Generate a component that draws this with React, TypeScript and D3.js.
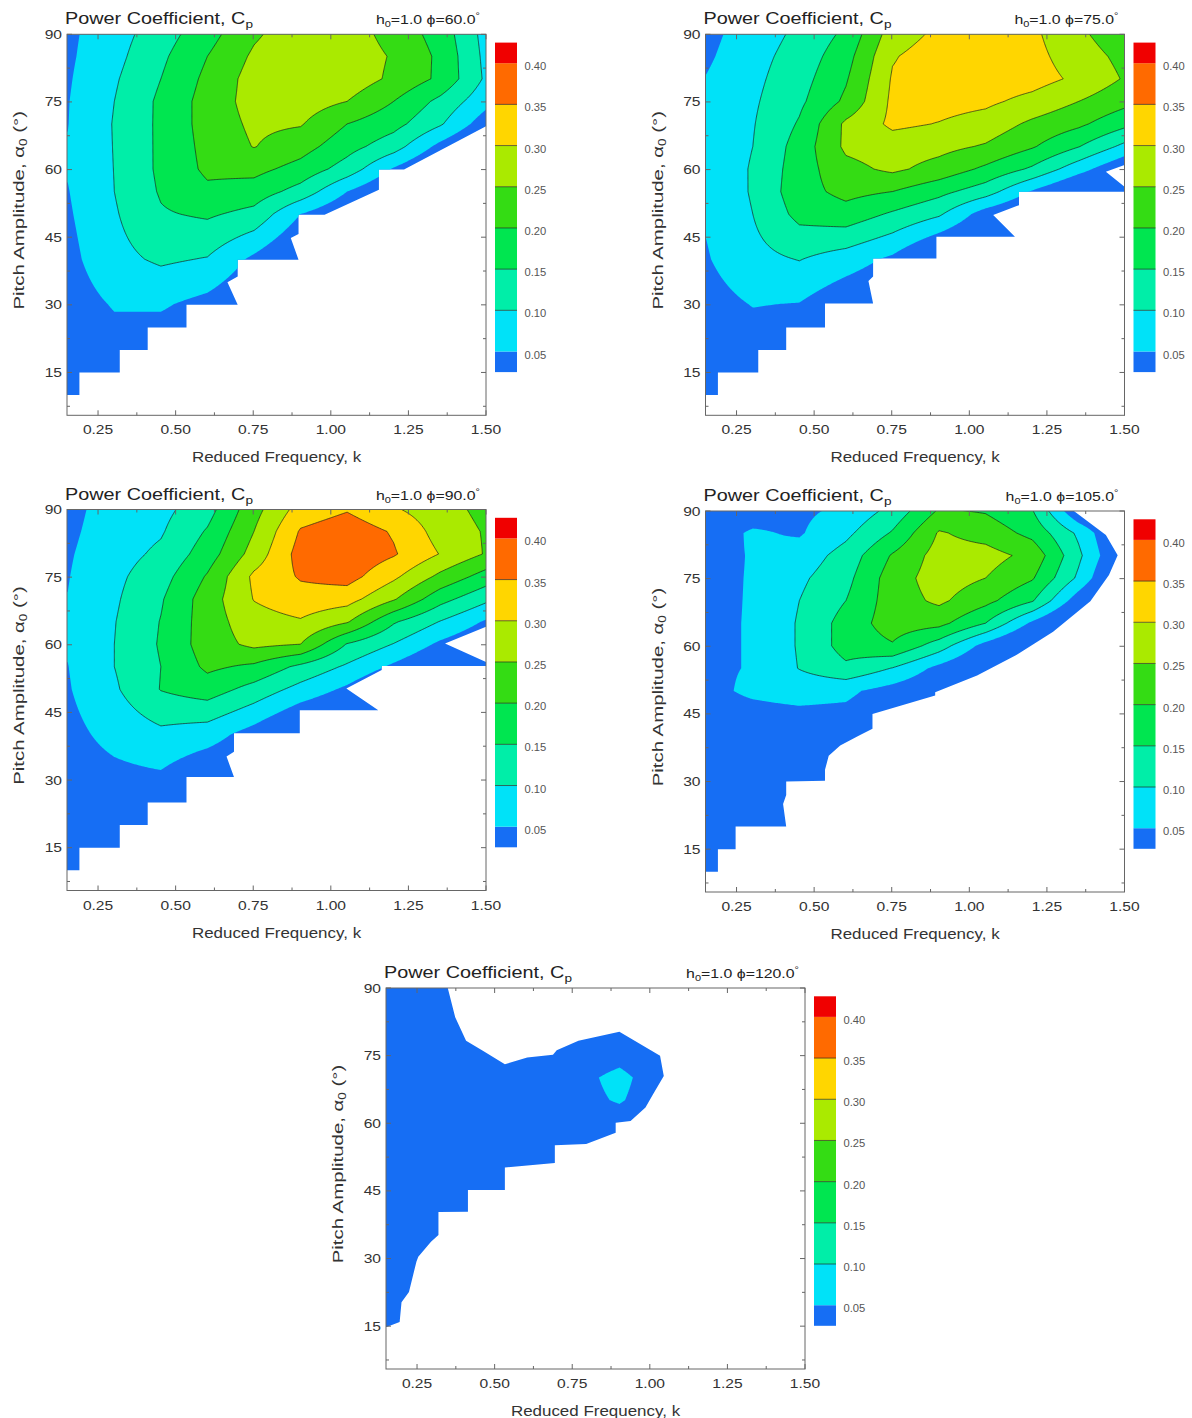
import React, { useMemo } from "react";
import * as d3 from "d3";

// ---------------- data ----------------
const kGrid = [0.15, 0.3, 0.45, 0.6, 0.75, 0.9, 1.05, 1.2, 1.35, 1.5];
const alphaGrid = [10, 20, 30, 40, 50, 55, 60, 65, 70, 75, 80, 85, 90];

const cpLevels = [0.05, 0.1, 0.15, 0.2, 0.25, 0.3, 0.35, 0.4];
const cpLevelLabels = ["0.05", "0.10", "0.15", "0.20", "0.25", "0.30", "0.35", "0.40"];
const xTicks = [0.25, 0.5, 0.75, 1.0, 1.25, 1.5];
const xTickLabels = ["0.25", "0.50", "0.75", "1.00", "1.25", "1.50"];
const xMinorTicks = [0.375, 0.625, 0.875, 1.125, 1.375];
const yTicks = [15, 30, 45, 60, 75, 90];
const yTickLabels = ["15", "30", "45", "60", "75", "90"];
const yMinorTicks = [7.5, 22.5, 37.5, 52.5, 67.5, 82.5];
const phaseAngles = ["60.0", "75.0", "90.0", "105.0", "120.0"];
const heaveAmplitude = "1.0";

// Cp on (alpha row, k column); rows follow alphaGrid (10 -> 90)
const cpPhi60 = [
  [0.01, 0.01, 0.005, 0.0, -0.01, -0.02, -0.03, -0.04, -0.05, -0.05],
  [0.02, 0.03, 0.02, 0.01, 0.0, -0.02, -0.03, -0.04, -0.05, -0.05],
  [0.025, 0.054, 0.056, 0.034, 0.0, -0.02, -0.03, -0.04, -0.05, -0.05],
  [0.035, 0.085, 0.108, 0.097, 0.039, -0.02, -0.04, -0.05, -0.05, -0.05],
  [0.044, 0.095, 0.145, 0.157, 0.135, 0.05, 0.0, -0.02, -0.05, -0.05],
  [0.048, 0.1, 0.155, 0.19, 0.177, 0.131, 0.05, -0.01, -0.03, -0.05],
  [0.053, 0.101, 0.16, 0.21, 0.215, 0.182, 0.128, 0.045, -0.02, -0.04],
  [0.052, 0.102, 0.16, 0.215, 0.252, 0.221, 0.169, 0.122, 0.035, -0.03],
  [0.049, 0.103, 0.16, 0.22, 0.26, 0.254, 0.2, 0.167, 0.106, 0.02],
  [0.048, 0.1, 0.16, 0.22, 0.27, 0.275, 0.25, 0.2, 0.137, 0.065],
  [0.045, 0.094, 0.15, 0.212, 0.27, 0.29, 0.28, 0.24, 0.19, 0.09],
  [0.042, 0.085, 0.14, 0.2, 0.258, 0.29, 0.28, 0.245, 0.19, 0.085],
  [0.04, 0.079, 0.126, 0.181, 0.242, 0.28, 0.275, 0.231, 0.18, 0.08],
];
const cpPhi75 = [
  [0.01, 0.01, 0.005, 0.0, -0.01, -0.02, -0.03, -0.04, -0.05, -0.05],
  [0.02, 0.025, 0.02, 0.01, 0.0, -0.02, -0.03, -0.04, -0.05, -0.05],
  [0.03, 0.052, 0.048, 0.01, -0.01, -0.02, -0.03, -0.04, -0.05, -0.05],
  [0.046, 0.085, 0.102, 0.075, 0.04, -0.03, -0.05, -0.05, -0.05, -0.05],
  [0.055, 0.1, 0.165, 0.18, 0.143, 0.107, 0.025, -0.02, -0.04, -0.05],
  [0.057, 0.105, 0.18, 0.215, 0.2, 0.165, 0.123, 0.045, -0.02, -0.03],
  [0.058, 0.105, 0.175, 0.235, 0.26, 0.232, 0.19, 0.142, 0.07, 0.0],
  [0.06, 0.1, 0.17, 0.26, 0.275, 0.265, 0.245, 0.205, 0.152, 0.086],
  [0.06, 0.097, 0.155, 0.26, 0.31, 0.298, 0.28, 0.24, 0.21, 0.163],
  [0.058, 0.093, 0.14, 0.21, 0.31, 0.318, 0.31, 0.285, 0.25, 0.215],
  [0.052, 0.088, 0.13, 0.195, 0.305, 0.325, 0.33, 0.32, 0.29, 0.245],
  [0.042, 0.083, 0.12, 0.18, 0.296, 0.325, 0.33, 0.315, 0.275, 0.235],
  [0.035, 0.075, 0.11, 0.16, 0.275, 0.31, 0.325, 0.31, 0.26, 0.215],
];
const cpPhi90 = [
  [0.01, 0.01, 0.005, 0.0, -0.01, -0.02, -0.03, -0.04, -0.05, -0.05],
  [0.015, 0.02, 0.02, 0.0, -0.01, -0.02, -0.03, -0.04, -0.05, -0.05],
  [0.025, 0.035, 0.04, 0.0, -0.01, -0.02, -0.03, -0.04, -0.05, -0.05],
  [0.035, 0.065, 0.088, 0.072, 0.028, -0.03, -0.05, -0.05, -0.05, -0.05],
  [0.046, 0.093, 0.152, 0.175, 0.132, 0.083, 0.04, -0.02, -0.04, -0.05],
  [0.049, 0.1, 0.15, 0.21, 0.19, 0.138, 0.092, 0.04, -0.01, -0.02],
  [0.054, 0.1, 0.155, 0.225, 0.262, 0.25, 0.147, 0.098, 0.04, 0.0],
  [0.054, 0.098, 0.152, 0.225, 0.28, 0.295, 0.255, 0.156, 0.098, 0.043],
  [0.051, 0.093, 0.145, 0.225, 0.302, 0.33, 0.32, 0.255, 0.168, 0.11],
  [0.048, 0.088, 0.13, 0.205, 0.31, 0.355, 0.37, 0.31, 0.238, 0.178],
  [0.045, 0.08, 0.11, 0.175, 0.27, 0.37, 0.39, 0.355, 0.298, 0.245],
  [0.04, 0.075, 0.095, 0.155, 0.25, 0.355, 0.38, 0.345, 0.28, 0.245],
  [0.035, 0.072, 0.085, 0.13, 0.232, 0.32, 0.345, 0.305, 0.27, 0.235],
];
const cpPhi105 = [
  [0.01, 0.01, 0.01, 0.0, -0.01, -0.02, -0.03, -0.04, -0.05, -0.05],
  [0.01, 0.015, 0.015, 0.0, -0.01, -0.02, -0.03, -0.04, -0.05, -0.05],
  [0.015, 0.015, 0.015, 0.01, 0.0, -0.02, -0.03, -0.04, -0.05, -0.05],
  [0.03, 0.02, 0.02, 0.02, 0.0, -0.02, -0.03, -0.05, -0.05, -0.05],
  [0.04, 0.057, 0.065, 0.06, 0.03, 0.0, -0.03, -0.05, -0.05, -0.05],
  [0.044, 0.052, 0.102, 0.14, 0.098, 0.035, -0.02, -0.05, -0.05, -0.05],
  [0.044, 0.052, 0.105, 0.17, 0.195, 0.125, 0.03, -0.04, -0.06, -0.08],
  [0.044, 0.052, 0.105, 0.17, 0.225, 0.215, 0.15, 0.04, -0.05, -0.1],
  [0.043, 0.052, 0.1, 0.15, 0.225, 0.26, 0.215, 0.155, 0.02, -0.08],
  [0.042, 0.052, 0.09, 0.135, 0.225, 0.275, 0.25, 0.205, 0.09, -0.05],
  [0.04, 0.052, 0.07, 0.12, 0.205, 0.27, 0.27, 0.235, 0.11, -0.02],
  [0.03, 0.055, 0.045, 0.088, 0.155, 0.255, 0.23, 0.185, 0.09, -0.03],
  [0.02, 0.03, 0.04, 0.06, 0.115, 0.205, 0.195, 0.153, 0.0, -0.05],
];
const cpPhi120 = [
  [0.0, -0.02, -0.03, -0.04, -0.05, -0.05, -0.05, -0.05, -0.05, -0.05],
  [0.02, 0.0, -0.02, -0.03, -0.04, -0.05, -0.05, -0.05, -0.05, -0.05],
  [0.025, 0.01, -0.01, -0.03, -0.04, -0.05, -0.05, -0.05, -0.05, -0.05],
  [0.03, 0.02, 0.005, -0.02, -0.03, -0.04, -0.05, -0.05, -0.05, -0.05],
  [0.03, 0.025, 0.02, 0.01, -0.01, -0.03, -0.04, -0.05, -0.05, -0.05],
  [0.03, 0.028, 0.025, 0.02, 0.01, -0.005, -0.03, -0.04, -0.05, -0.05],
  [0.03, 0.03, 0.028, 0.025, 0.025, 0.03, 0.0, -0.03, -0.05, -0.05],
  [0.03, 0.03, 0.03, 0.03, 0.035, 0.054, 0.02, -0.02, -0.05, -0.05],
  [0.03, 0.03, 0.03, 0.03, 0.035, 0.062, 0.02, -0.02, -0.05, -0.05],
  [0.03, 0.03, 0.02, 0.01, 0.02, 0.035, 0.01, -0.03, -0.05, -0.05],
  [0.03, 0.025, 0.0, -0.02, -0.01, 0.005, -0.02, -0.04, -0.05, -0.05],
  [0.025, 0.015, -0.02, -0.03, -0.04, -0.04, -0.05, -0.05, -0.05, -0.05],
  [0.02, 0.01, -0.03, -0.04, -0.05, -0.05, -0.05, -0.05, -0.05, -0.05],
];

// Boundary of the region where results exist (k, alpha)
const validK60 = [0.15, 1.5, 1.5, 1.236, 1.155, 1.155, 0.98, 0.896, 0.896, 0.871, 0.896, 0.7, 0.7, 0.667, 0.7, 0.535, 0.535, 0.41, 0.41, 0.32, 0.32, 0.19, 0.19, 0.15];
const validA60 = [90, 90, 69.6, 60, 60, 55.5, 50, 50, 45.7, 44.8, 40, 40, 36.3, 35, 30, 30, 25, 25, 20, 20, 15, 15, 10, 10];
const validK75 = [0.15, 1.5, 1.5, 1.44, 1.5, 1.5, 1.16, 1.16, 1.077, 1.147, 0.894, 0.894, 0.69, 0.69, 0.675, 0.69, 0.535, 0.535, 0.41, 0.41, 0.32, 0.32, 0.19, 0.19, 0.15];
const validA75 = [90, 90, 61, 59.5, 56.2, 55.1, 55.1, 52.1, 49.9, 45.1, 45.1, 40.3, 40.3, 36.3, 35.3, 30.3, 30.3, 25, 25, 20, 20, 15, 15, 10, 10];
const validK90 = [0.15, 1.5, 1.5, 1.368, 1.5, 1.5, 1.164, 1.164, 1.05, 1.153, 0.9, 0.9, 0.688, 0.688, 0.664, 0.688, 0.535, 0.535, 0.41, 0.41, 0.32, 0.32, 0.19, 0.19, 0.15];
const validA90 = [90, 90, 64, 60.3, 56.2, 55.3, 55.3, 54.4, 50.3, 45.5, 45.5, 40.4, 40.4, 36.3, 35.2, 30.7, 30.7, 25, 25, 20, 20, 15, 15, 10, 10];
const validK105 = [0.15, 1.337, 1.44, 1.478, 1.45, 1.39, 1.27, 1.15, 1.025, 0.89, 0.89, 0.688, 0.688, 0.645, 0.584, 0.547, 0.535, 0.535, 0.41, 0.41, 0.4, 0.41, 0.247, 0.247, 0.19, 0.19, 0.15];
const validA105 = [90, 90, 84.7, 80.2, 75.8, 70, 63.2, 58, 53.5, 49.8, 49.1, 45, 41.7, 40.2, 38, 35.7, 32.6, 30.2, 30, 27, 25, 20, 20, 15, 15, 10, 10];
const validK120 = [0.15, 0.349, 0.373, 0.408, 0.462, 0.533, 0.605, 0.688, 0.7, 0.77, 0.902, 1.033, 1.045, 1.01, 0.986, 0.938, 0.89, 0.89, 0.795, 0.694, 0.694, 0.533, 0.533, 0.414, 0.414, 0.319, 0.319, 0.295, 0.254, 0.248, 0.224, 0.2, 0.194, 0.152, 0.15];
const validA120 = [90, 90, 83.5, 78.3, 76.1, 73.1, 74.6, 75.2, 76.2, 78.3, 80.3, 75, 70.5, 66.4, 63.5, 60.5, 60.1, 57.9, 55.4, 55.1, 51.2, 50.2, 45.2, 45.2, 40.4, 40.3, 35.2, 33.7, 30.4, 29.3, 22.6, 20.3, 15.9, 14.8, 14.8];

// ---------------- styling ----------------
const bandColors = ["#166ef4", "#00e2f8", "#00eea8", "#00e650", "#34dc14", "#aaea00", "#ffd600", "#ff6a00", "#f00000"];
const FONT = "'Liberation Sans', Arial, Helvetica, sans-serif";
const PLOT_W = 419;
const PLOT_H = 381;
const K_MIN = 0.15;
const K_MAX = 1.5;
const A_MIN = 5.5;
const A_MAX = 90;
const NX = 271;
const NY = 321;
const F_A0 = 10;
const F_A1 = 90;

function sampleCp(grid: number[][], k: number, a: number) {
  let i = d3.bisectRight(kGrid, k) - 1;
  i = Math.max(0, Math.min(kGrid.length - 2, i));
  let j = d3.bisectRight(alphaGrid, a) - 1;
  j = Math.max(0, Math.min(alphaGrid.length - 2, j));
  const tx = Math.max(0, Math.min(1, (k - kGrid[i]) / (kGrid[i + 1] - kGrid[i])));
  const ty = Math.max(0, Math.min(1, (a - alphaGrid[j]) / (alphaGrid[j + 1] - alphaGrid[j])));
  return (
    grid[j][i] * (1 - tx) * (1 - ty) +
    grid[j][i + 1] * tx * (1 - ty) +
    grid[j + 1][i] * (1 - tx) * ty +
    grid[j + 1][i + 1] * tx * ty
  );
}

function SText(props: any) {
  const { x, y, sx = 1, size, anchor = "start", fill = "#222", children, rotate = 0 } = props;
  return (
    <text
      transform={`translate(${x},${y}) rotate(${rotate}) scale(${sx},1)`}
      fontSize={size}
      textAnchor={anchor}
      fill={fill}
      fontFamily={FONT}
    >
      {children}
    </text>
  );
}

function Panel(props: any) {
  const { left, top, grid, validK, validA, phi, id } = props;
  const xs = d3.scaleLinear().domain([K_MIN, K_MAX]).range([left, left + PLOT_W]);
  const ys = d3.scaleLinear().domain([A_MIN, A_MAX]).range([top + PLOT_H, top]);

  const { fills, lines, validPath } = useMemo(() => {
    const dk = (K_MAX - K_MIN) / (NX - 1);
    const da = (F_A1 - F_A0) / (NY - 1);
    const values = new Array(NX * NY);
    for (let y = 0; y < NY; y++) {
      for (let x = 0; x < NX; x++) {
        values[y * NX + x] = sampleCp(grid, K_MIN + x * dk, F_A0 + y * da);
      }
    }
    const contours = d3.contours().size([NX, NY]).thresholds(cpLevels)(values);
    const proj = d3.geoTransform({
      point: function (this: any, x: number, y: number) {
        this.stream.point(xs(K_MIN + x * dk), ys(F_A0 + y * da));
      },
    });
    const path = d3.geoPath(proj as any);
    const fills = contours.map((c: any, i: number) => ({ d: path(c) || "", color: bandColors[i + 1], level: cpLevels[i] }));
    const lines = fills.filter((f: any) => f.level >= 0.1);
    const pts = validK.map((k: number, i: number) => [xs(k), ys(validA[i])] as [number, number]);
    const validPath = (d3.line()(pts) || "") + "Z";
    return { fills, lines, validPath };
  }, [grid, validK, validA, left, top]);

  const cbX = left + PLOT_W + 9;
  const cbW = 22;
  const cbTop = top + 8.3;
  const cbH = 329.5;
  const cs = d3.scaleLinear().domain([0.025, 0.425]).range([cbTop + cbH, cbTop]);
  const edges = [0.025, ...cpLevels, 0.425];

  const axisColor = "#666";
  const bottom = top + PLOT_H;
  const right = left + PLOT_W;

  return (
    <g>
      <defs>
        <clipPath id={`valid-${id}`}>
          <path d={validPath} />
        </clipPath>
      </defs>
      <g clipPath={`url(#valid-${id})`}>
        <rect x={left} y={top} width={PLOT_W} height={PLOT_H} fill={bandColors[0]} />
        {fills.map((f: any, i: number) => (
          <path key={`f${i}`} d={f.d} fill={f.color} fillRule="evenodd" stroke="none" />
        ))}
        {lines.map((f: any, i: number) => (
          <path key={`l${i}`} d={f.d} fill="none" stroke="#1c1c1c" strokeWidth={0.8} strokeOpacity={0.85} />
        ))}
      </g>
      {/* frame */}
      <rect x={left} y={top} width={PLOT_W} height={PLOT_H} fill="none" stroke={axisColor} strokeWidth={1} />
      {xTicks.map((t) => (
        <g key={`xt${t}`} stroke={axisColor} strokeWidth={1}>
          <line x1={xs(t)} x2={xs(t)} y1={bottom} y2={bottom - 5} />
          <line x1={xs(t)} x2={xs(t)} y1={top} y2={top + 5} />
        </g>
      ))}
      {xMinorTicks.map((t) => (
        <g key={`xm${t}`} stroke={axisColor} strokeWidth={1}>
          <line x1={xs(t)} x2={xs(t)} y1={bottom} y2={bottom - 3} />
          <line x1={xs(t)} x2={xs(t)} y1={top} y2={top + 3} />
        </g>
      ))}
      {yTicks.map((t) => (
        <g key={`yt${t}`} stroke={axisColor} strokeWidth={1}>
          <line x1={left} x2={left + 5} y1={ys(t)} y2={ys(t)} />
          <line x1={right} x2={right - 5} y1={ys(t)} y2={ys(t)} />
        </g>
      ))}
      {yMinorTicks.map((t) => (
        <g key={`ym${t}`} stroke={axisColor} strokeWidth={1}>
          <line x1={left} x2={left + 3} y1={ys(t)} y2={ys(t)} />
          <line x1={right} x2={right - 3} y1={ys(t)} y2={ys(t)} />
        </g>
      ))}
      {/* tick labels */}
      {xTicks.map((t, i) => (
        <SText key={`xl${t}`} x={xs(t)} y={bottom + 19} sx={1.2} size={13} anchor="middle" fill="#333">
          {xTickLabels[i]}
        </SText>
      ))}
      {yTicks.map((t, i) => (
        <SText key={`yl${t}`} x={left - 5} y={ys(t) + 4.5} sx={1.2} size={13} anchor="end" fill="#333">
          {yTickLabels[i]}
        </SText>
      ))}
      {/* axis titles */}
      <SText x={(left + right) / 2} y={bottom + 47} sx={1.13} size={15} anchor="middle" fill="#333">
        Reduced Frequency, k
      </SText>
      <SText x={left - 43} y={top + 176} sx={1.36} size={15} anchor="middle" fill="#333" rotate={-90}>
        Pitch Amplitude, α<tspan fontSize={10} dy={3}>0</tspan>
        <tspan dy={-3}> (°)</tspan>
      </SText>
      {/* titles */}
      <SText x={left - 2} y={top - 10} sx={1.24} size={16} fill="#222">
        Power Coefficient, C<tspan fontSize={11} dy={4}>p</tspan>
      </SText>
      <SText x={right - 6} y={top - 10} sx={1.22} size={13} anchor="end" fill="#222">
        h<tspan fontSize={9} dy={3}>0</tspan>
        <tspan dy={-3}>={heaveAmplitude} ϕ={phi}</tspan>
        <tspan fontSize={9} dy={-5}>°</tspan>
      </SText>
      {/* colorbar */}
      {bandColors.map((c, b) => (
        <rect
          key={`cb${b}`}
          x={cbX}
          y={cs(edges[b + 1])}
          width={cbW}
          height={cs(edges[b]) - cs(edges[b + 1])}
          fill={c}
        />
      ))}
      {cpLevels
        .filter((l) => l >= 0.1 && l <= 0.35)
        .map((l) => (
          <line key={`cs${l}`} x1={cbX} x2={cbX + cbW} y1={cs(l)} y2={cs(l)} stroke="#1c1c1c" strokeWidth={0.8} strokeOpacity={0.8} />
        ))}
      {cpLevels.map((l, i) => (
        <SText key={`cl${l}`} x={cbX + cbW + 7.5} y={cs(l) + 7} sx={1.12} size={10} fill="#555">
          {cpLevelLabels[i]}
        </SText>
      ))}
    </g>
  );
}

const panelData = [
  { grid: cpPhi60, validK: validK60, validA: validA60 },
  { grid: cpPhi75, validK: validK75, validA: validA75 },
  { grid: cpPhi90, validK: validK90, validA: validA90 },
  { grid: cpPhi105, validK: validK105, validA: validA105 },
  { grid: cpPhi120, validK: validK120, validA: validA120 },
];
const panelPos = [
  { left: 67, top: 34.3 },
  { left: 705.5, top: 34.3 },
  { left: 67, top: 509.5 },
  { left: 705.5, top: 511 },
  { left: 386, top: 988 },
];

export default function App() {
  return (
    <svg
      width={1192}
      height={1418}
      style={{ position: "absolute", left: 0, top: 0, background: "#fff" }}
      xmlns="http://www.w3.org/2000/svg"
    >
      <rect x={0} y={0} width={1192} height={1418} fill="#fff" />
      {panelData.map((p, i) => (
        <Panel
          key={i}
          id={i}
          left={panelPos[i].left}
          top={panelPos[i].top}
          grid={p.grid}
          validK={p.validK}
          validA={p.validA}
          phi={phaseAngles[i]}
        />
      ))}
    </svg>
  );
}
